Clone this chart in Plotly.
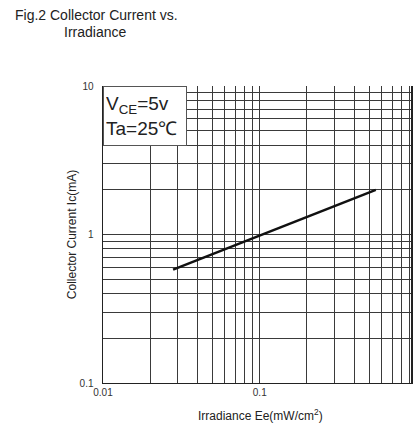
import numpy as np
import plotly.graph_objects as go

# Data
irradiance = [0.028, 0.55]          # mW/cm^2
collector_current = [0.58, 2.0]     # mA

x_tickvals = [m * 10.0 ** e for e in (-2, -1) for m in range(1, 10)] + [1.0]
x_ticktext = ["0.01"] + [""] * 8 + ["0.1"] + [""] * 8 + [""]
y_tickvals = [m * 10.0 ** e for e in (-1, 0) for m in range(1, 10)] + [10.0]
y_ticktext = ["0.1"] + [""] * 8 + ["1"] + [""] * 8 + ["10"]

W, H = 413, 432
L, R, T, B = 103, 0, 86, 49
pw, ph = W - L - R, H - T - B

def px(x):
    return (x - L) / pw

def py(y):
    return (H - B - y) / ph

FONT = "Liberation Sans, Arial, sans-serif"

fig = go.Figure()
fig.add_trace(go.Scatter(
    x=irradiance, y=collector_current, mode="lines",
    line=dict(color="#111111", width=2.5), showlegend=False, hoverinfo="skip"))

fig.update_xaxes(
    type="log", range=[-2, -0.035],
    tickmode="array", tickvals=x_tickvals, ticktext=x_ticktext,
    showgrid=True, gridcolor="#3a3a3a", gridwidth=1,
    showline=True, linecolor="#222222", linewidth=1, mirror=False,
    ticks="", tickfont=dict(family=FONT, size=10, color="#333333"),
    zeroline=False)
fig.update_yaxes(
    type="log", range=[-1, 1],
    tickmode="array", tickvals=y_tickvals, ticktext=y_ticktext,
    showgrid=True, gridcolor="#3a3a3a", gridwidth=1,
    showline=True, linecolor="#222222", linewidth=1.5, mirror=True,
    ticks="", ticklabelstandoff=6, tickfont=dict(family=FONT, size=10, color="#333333"),
    zeroline=False)

annotations = [
    dict(text="Fig.2 Collector Current vs.", x=px(12), y=py(15), xanchor="left", yanchor="middle",
         font=dict(family=FONT, size=14, color="#222222")),
    dict(text="Irradiance", x=px(62), y=py(32), xanchor="left", yanchor="middle",
         font=dict(family=FONT, size=14, color="#222222")),
    dict(text="Irradiance Ee(mW/cm<sup>2</sup>)", x=px(262), y=py(415), xanchor="center", yanchor="middle",
         font=dict(family=FONT, size=12, color="#222222")),
    dict(text="Collector Current Ic(mA)", x=px(72), y=py(235), xanchor="center", yanchor="middle",
         textangle=-90, font=dict(family=FONT, size=12, color="#222222")),
    dict(text="V<sub>CE</sub>=5v<br>Ta=25℃", x=0, y=1, xanchor="left", yanchor="top",
         align="left", bgcolor="white", bordercolor="#555555", borderwidth=1, borderpad=2,
         width=78, height=54,
         font=dict(family=FONT, size=19, color="#222222")),
]
for a in annotations:
    a.setdefault("xref", "paper")
    a.setdefault("yref", "paper")
    a["showarrow"] = False

fig.update_layout(
    width=W, height=H, margin=dict(l=L, r=R, t=T, b=B),
    paper_bgcolor="white", plot_bgcolor="white",
    annotations=annotations, showlegend=False)

fig.write_html("out.html", config={"displayModeBar": False, "staticPlot": True},
               post_script="document.body.style.margin='0';document.body.style.overflow='hidden';")
